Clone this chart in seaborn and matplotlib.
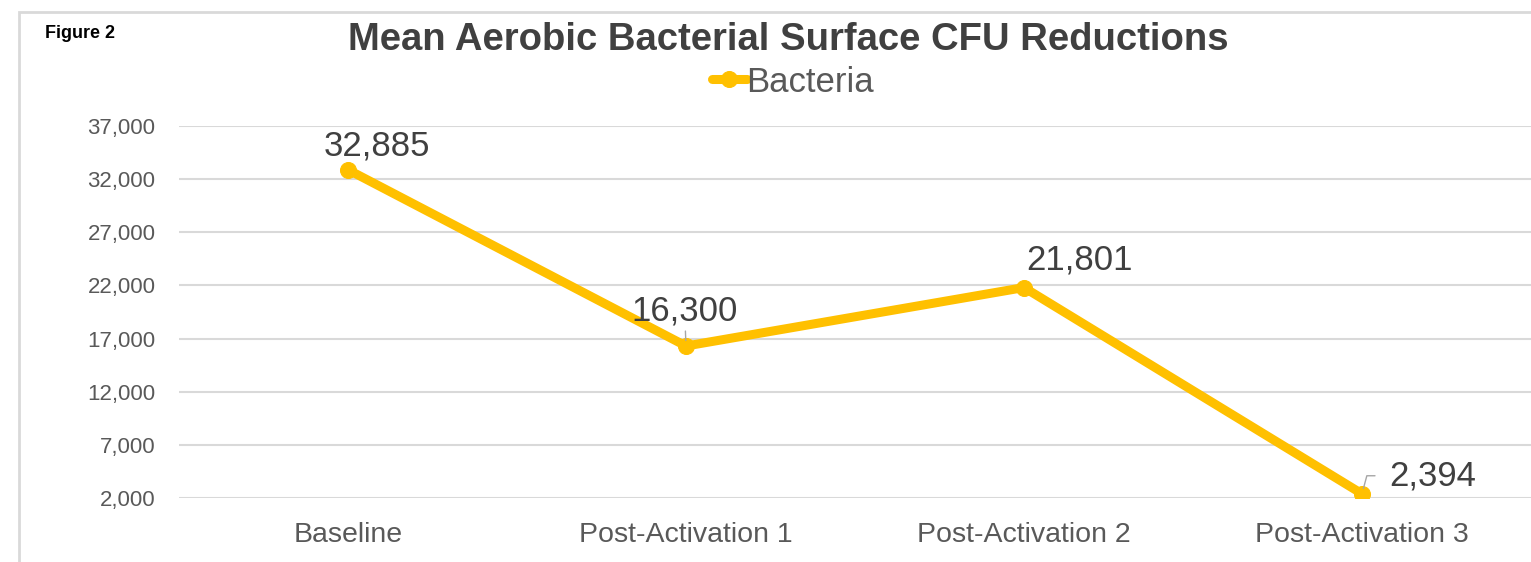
import pandas as pd
import matplotlib
matplotlib.use("Agg")
import matplotlib.pyplot as plt
from matplotlib.patches import Rectangle
import seaborn as sns

# values
stages = ['Baseline', 'Post-Activation 1', 'Post-Activation 2', 'Post-Activation 3']
cfu = [32885, 16300, 21801, 2394]
series_name = 'Bacteria'
y_ticks = [2000, 7000, 12000, 17000, 22000, 27000, 32000, 37000]

GOLD = '#FFC000'
GRID = '#D9D9D9'
TXT = '#595959'
DARK = '#404040'

sns.set_theme(style='white')
plt.rcParams['font.family'] = ['Liberation Sans', 'DejaVu Sans']

df = pd.DataFrame({'stage': stages, 'cfu': cfu})

fig = plt.figure(figsize=(15.31, 5.62), dpi=100)
ax = fig.add_axes([179 / 1531, 1 - 498 / 562, 1 - 179 / 1531, (498 - 126) / 562])

sns.lineplot(data=df, x='stage', y='cfu', ax=ax, color=GOLD, linewidth=6.5,
             marker='o', markersize=11.5, markeredgecolor=GOLD, label=series_name,
             sort=False)

ax.set_xlim(-0.5, len(stages) - 0.5)
ax.set_ylim(y_ticks[0], y_ticks[-1])
ax.set_yticks(y_ticks)
ax.set_yticklabels([f'{v:,}' for v in y_ticks])
ax.set_xlabel('')
ax.set_ylabel('')
ax.grid(axis='y', color=GRID, linewidth=1.5)
ax.grid(axis='x', visible=False)
ax.set_axisbelow(True)
for s in ax.spines.values():
    s.set_visible(False)
ax.tick_params(axis='y', length=0, pad=17, labelsize=16, labelcolor=TXT)
ax.tick_params(axis='x', length=0, pad=17, labelsize=20.5, labelcolor=TXT)

# data labels (offsets in points)
label_offsets = {0: (21, 17), 1: (-1, 25), 2: (40, 20), 3: (51, 13)}
for i, v in enumerate(cfu):
    kw = {}
    if i == 1:
        kw['arrowprops'] = dict(arrowstyle='-', color='#A6A6A6', lw=1, shrinkA=0, shrinkB=4)
    elif i == 3:
        kw['arrowprops'] = dict(arrowstyle='-', color='#A6A6A6', lw=1, shrinkA=8, shrinkB=4,
                                connectionstyle='angle,angleA=0,angleB=75')
    ax.annotate(f'{v:,}', xy=(i, v), xytext=label_offsets[i], textcoords='offset points',
                ha='center', va='center', fontsize=25, color=DARK, **kw)

leg = ax.legend(loc='center', bbox_to_anchor=(0.518, 0.854), bbox_transform=fig.transFigure,
                frameon=False, fontsize=25, handlelength=1.0, handletextpad=0.0,
                borderaxespad=0)
for t in leg.get_texts():
    t.set_color(TXT)

fig.text(0.515, 0.928, 'Mean Aerobic Bacterial Surface CFU Reductions', ha='center', va='center',
         fontsize=27.5, fontweight='bold', color=DARK)
fig.text(45 / 1531, 1 - 34 / 562, 'Figure 2', ha='left', va='center', fontsize=13,
         fontweight='bold', color='black',
         family=['Liberation Sans Narrow', 'Liberation Sans', 'DejaVu Sans'])

# outer chart border
fig.patches.append(Rectangle((19 / 1531, -0.1), 1.1, 1 - 12 / 562 + 0.1,
                             transform=fig.transFigure, fill=False,
                             edgecolor=GRID, linewidth=2))

fig.savefig('out.png', dpi=100)
